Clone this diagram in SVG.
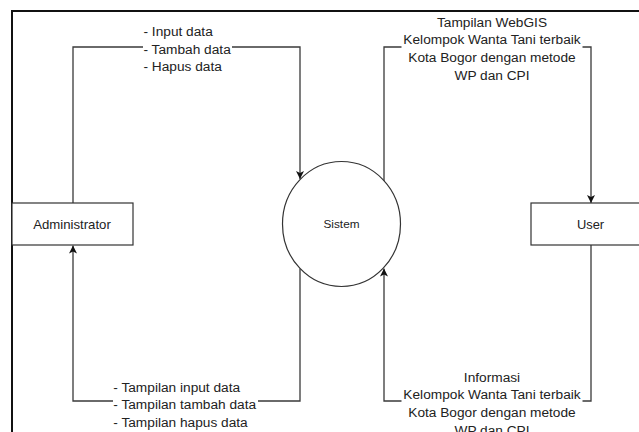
<svg xmlns="http://www.w3.org/2000/svg" width="639" height="432" viewBox="0 0 639 432">
  <style>
    text { font-family: "Liberation Sans", Arial, sans-serif; fill: #222; }
    .lbl { font-size: 13.7px; }
    .node { fill: #fff; stroke: #333; stroke-width: 1.2; }
    .edge { fill: none; stroke: #3a3a3a; stroke-width: 1.3; }
    .bg { fill: #fff; }
  </style>
  <defs>
    <marker id="arrow" viewBox="0 0 10 10" refX="10" refY="5" markerWidth="8" markerHeight="8" markerUnits="userSpaceOnUse" orient="auto">
      <path d="M0,0 L10,5 L0,10 L2.5,5 Z" fill="#111"/>
    </marker>
  </defs>

  <rect width="639" height="432" fill="#fff"/>
  <!-- outer frame -->
  <rect x="12" y="11" width="660" height="440" fill="none" stroke="#111" stroke-width="2"/>

  <g id="connectors">
    <path class="edge" d="M73,203 V47 H300 V179" marker-end="url(#arrow)"/>
    <path class="edge" d="M384,181 V47 H591 V203" marker-end="url(#arrow)"/>
    <path class="edge" d="M591,245 V401 H384 V268.5" marker-end="url(#arrow)"/>
    <path class="edge" d="M300,268.5 V401 H73 V245.5" marker-end="url(#arrow)"/>
  </g>

  <g id="labels">
    <g id="label-admin-in">
      <rect class="bg" x="143" y="24" width="89" height="51"/>
      <text class="lbl" x="143.5" y="36">- Input data</text>
      <text class="lbl" x="143.5" y="53.5">- Tambah data</text>
      <text class="lbl" x="143.5" y="71">- Hapus data</text>
    </g>
    <g id="label-user-out">
      <rect class="bg" x="401.5" y="14" width="181" height="69"/>
      <text class="lbl" x="492" y="26.7" text-anchor="middle">Tampilan WebGIS</text>
      <text class="lbl" x="492" y="44.4" text-anchor="middle">Kelompok Wanta Tani terbaik</text>
      <text class="lbl" x="492" y="62" text-anchor="middle">Kota Bogor dengan metode</text>
      <text class="lbl" x="492" y="79.5" text-anchor="middle">WP dan CPI</text>
    </g>
    <g id="label-user-in">
      <rect class="bg" x="401.5" y="369" width="181" height="63"/>
      <text class="lbl" x="492" y="381.7" text-anchor="middle">Informasi</text>
      <text class="lbl" x="492" y="399.3" text-anchor="middle">Kelompok Wanta Tani terbaik</text>
      <text class="lbl" x="492" y="417" text-anchor="middle">Kota Bogor dengan metode</text>
      <text class="lbl" x="492" y="434.5" text-anchor="middle">WP dan CPI</text>
    </g>
    <g id="label-admin-out">
      <rect class="bg" x="113" y="379" width="145" height="52"/>
      <text class="lbl" x="113.3" y="391.7">- Tampilan input data</text>
      <text class="lbl" x="113.3" y="409.3">- Tampilan tambah data</text>
      <text class="lbl" x="113.3" y="426.7">- Tampilan hapus data</text>
    </g>
  </g>

  <g id="administrator">
    <rect class="node" x="12" y="203" width="121" height="42"/>
    <text x="72" y="228.5" font-size="13.2" text-anchor="middle">Administrator</text>
  </g>

  <g id="sistem">
    <ellipse class="node" cx="341.5" cy="224" rx="59" ry="62.5"/>
    <text x="341.5" y="227.5" font-size="11.8" text-anchor="middle">Sistem</text>
  </g>

  <g id="user">
    <rect class="node" x="531" y="203" width="121" height="42"/>
    <text x="590.5" y="228.5" font-size="12.9" text-anchor="middle">User</text>
  </g>
</svg>
